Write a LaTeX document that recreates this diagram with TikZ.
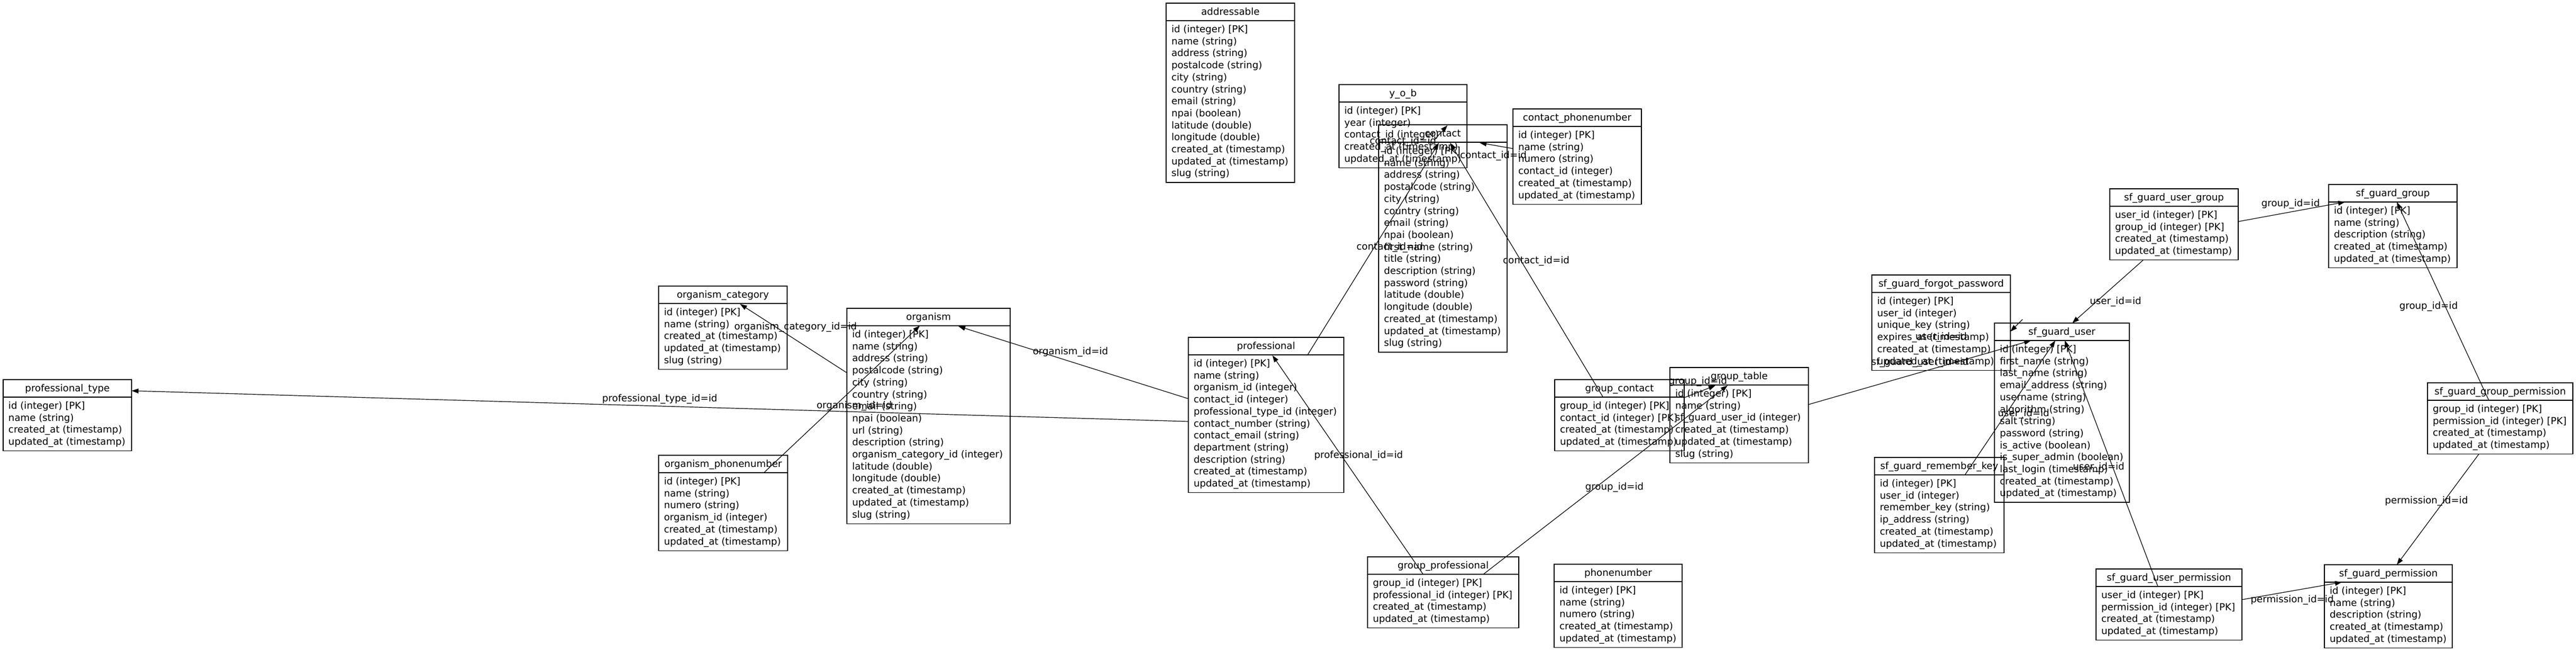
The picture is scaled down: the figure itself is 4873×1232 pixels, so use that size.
\documentclass[tikz,border=0pt]{standalone}
\usepackage{fontspec}
\setmainfont{DejaVu Sans}
\usetikzlibrary{arrows.meta,calc}
\newcounter{fkc}
\tikzset{
  tbl/.style={draw=black, line width=1.3pt, inner sep=0pt, outer sep=0pt, anchor=north west},
  hdiv/.style={draw=black, line width=2.6pt},
  txt/.style={inner sep=0pt, outer sep=0pt, font=\fontsize{18.2}{22.7}\selectfont},
  fkline/.style={draw=black, line width=1.2pt, -{Triangle[length=13pt,width=9pt]}},
}
\newcommand{\erbox}[7]{%
  \pgfmathsetmacro\boxh{33+#5*22.7+11}%
  \node[tbl, minimum width=#4pt, minimum height=\boxh pt] (#1) at (#2,#3) {};
  \draw[hdiv] ([yshift=-33pt]#1.north west) -- ([yshift=-33pt]#1.north east);
  \node[txt, anchor=base] (#1-h) at ([yshift=-22.2pt]#1.north) {#6};
  \foreach \rowtxt [count=\i] in {#7} {
    \pgfmathsetmacro\yy{55.55+(\i-1)*22.7}
    \node[txt, anchor=base west] (#1-r\i) at ([xshift=10pt,yshift=-\yy pt]#1.north west) {\rowtxt};
  }
}
\newcommand{\fk}[9]{%
  \stepcounter{fkc}%
  \draw[fkline] ($(#1.north west)+(#2,#3)$) -- ($(#4.north west)+(#5,#6)$);
  \node[txt, anchor=base] (fk\thefkc) at ($(#7,#8)+(0,5.7)$) {#9};
}
\begin{document}
\begin{tikzpicture}[x=1pt,y=-1pt]
\fill[white] (0,0) rectangle (4873,1232);
\useasboundingbox (0,0) rectangle (4873,1232);

\erbox{PT}{6}{718}{243}{4}{professional\_type}{id (integer) [PK], name (string), created\_at (timestamp), updated\_at (timestamp)}
\erbox{OC}{1246}{541}{243}{5}{organism\_category}{id (integer) [PK], name (string), created\_at (timestamp), updated\_at (timestamp), slug (string)}
\erbox{OR}{1602}{583}{309}{16}{organism}{id (integer) [PK], name (string), address (string), postalcode (string), city (string), country (string), email (string), npai (boolean), url (string), description (string), organism\_category\_id (integer), latitude (double), longitude (double), created\_at (timestamp), updated\_at (timestamp), slug (string)}
\erbox{OP}{1246}{861}{244}{6}{organism\_phonenumber}{id (integer) [PK], name (string), numero (string), organism\_id (integer), created\_at (timestamp), updated\_at (timestamp)}
\erbox{AD}{2206}{6}{243}{13}{addressable}{id (integer) [PK], name (string), address (string), postalcode (string), city (string), country (string), email (string), npai (boolean), latitude (double), longitude (double), created\_at (timestamp), updated\_at (timestamp), slug (string)}
\erbox{YOB}{2533}{160}{242}{5}{y\_o\_b}{id (integer) [PK], year (integer), contact\_id (integer), created\_at (timestamp), updated\_at (timestamp)}
\erbox{CO}{2608}{236}{243}{17}{contact}{id (integer) [PK], name (string), address (string), postalcode (string), city (string), country (string), email (string), npai (boolean), first\_name (string), title (string), description (string), password (string), latitude (double), longitude (double), created\_at (timestamp), updated\_at (timestamp), slug (string)}
\erbox{CP}{2862}{206}{243}{6}{contact\_phonenumber}{id (integer) [PK], name (string), numero (string), contact\_id (integer), created\_at (timestamp), updated\_at (timestamp)}
\erbox{PR}{2248}{638}{294}{11}{professional}{id (integer) [PK], name (string), organism\_id (integer), contact\_id (integer), professional\_type\_id (integer), contact\_number (string), contact\_email (string), department (string), description (string), created\_at (timestamp), updated\_at (timestamp)}
\erbox{GC}{2941}{718}{245}{4}{group\_contact}{group\_id (integer) [PK], contact\_id (integer) [PK], created\_at (timestamp), updated\_at (timestamp)}
\erbox{GT}{3159}{695}{262}{6}{group\_table}{id (integer) [PK], name (string), sf\_guard\_user\_id (integer), created\_at (timestamp), updated\_at (timestamp), slug (string)}
\erbox{GP}{2587}{1053}{286}{4}{group\_professional}{group\_id (integer) [PK], professional\_id (integer) [PK], created\_at (timestamp), updated\_at (timestamp)}
\erbox{PN}{2940}{1067}{242}{5}{phonenumber}{id (integer) [PK], name (string), numero (string), created\_at (timestamp), updated\_at (timestamp)}
\erbox{FP}{3541}{520}{262}{6}{sf\_guard\_forgot\_password}{id (integer) [PK], user\_id (integer), unique\_key (string), expires\_at (timestamp), created\_at (timestamp), updated\_at (timestamp)}
\erbox{SU}{3773}{611}{255}{13}{sf\_guard\_user}{id (integer) [PK], first\_name (string), last\_name (string), email\_address (string), username (string), algorithm (string), salt (string), password (string), is\_active (boolean), is\_super\_admin (boolean), last\_login (timestamp), created\_at (timestamp), updated\_at (timestamp)}
\erbox{RK}{3546}{865}{245}{6}{sf\_guard\_remember\_key}{id (integer) [PK], user\_id (integer), remember\_key (string), ip\_address (string), created\_at (timestamp), updated\_at (timestamp)}
\erbox{UG}{3991}{357}{243}{4}{sf\_guard\_user\_group}{user\_id (integer) [PK], group\_id (integer) [PK], created\_at (timestamp), updated\_at (timestamp)}
\erbox{SG}{4405}{349}{243}{5}{sf\_guard\_group}{id (integer) [PK], name (string), description (string), created\_at (timestamp), updated\_at (timestamp)}
\erbox{GPm}{4592}{724}{275}{4}{sf\_guard\_group\_permission}{group\_id (integer) [PK], permission\_id (integer) [PK], created\_at (timestamp), updated\_at (timestamp)}
\erbox{UP}{3965}{1076}{276}{4}{sf\_guard\_user\_permission}{user\_id (integer) [PK], permission\_id (integer) [PK], created\_at (timestamp), updated\_at (timestamp)}
\erbox{SP}{4397}{1068}{242}{5}{sf\_guard\_permission}{id (integer) [PK], name (string), description (string), created\_at (timestamp), updated\_at (timestamp)}

\fk{PR}{0}{159}{PT}{243}{21}{1248}{754}{professional\_type\_id=id}
\fk{OR}{0}{122}{OC}{154}{34}{1505}{618}{organism\_category\_id=id}
\fk{OP}{200}{32}{OR}{138}{33}{1616}{767}{organism\_id=id}
\fk{PR}{0}{116}{OR}{211}{34}{2025}{665}{organism\_id=id}
\fk{PR}{225}{34}{CO}{114}{34}{2629}{467}{contact\_id=id}
\fk{GC}{92}{34}{CO}{135}{34}{2906}{493}{contact\_id=id}
\fk{CP}{0}{75}{CO}{191}{34}{2825}{294}{contact\_id=id}
\fk{YOB}{180}{105}{CO}{130}{1}{2654}{267}{contact\_id=id}
\fk{GC}{245}{34}{GT}{86}{34}{3212}{721}{group\_id=id}
\fk{GP}{219}{33}{GT}{109}{34}{3054}{921}{group\_id=id}
\fk{GP}{105}{33}{PR}{159}{34}{2570}{861}{professional\_id=id}
\fk{GT}{262}{70}{SU}{69}{33}{3632}{685}{sf\_guard\_user\_id=id}
\fk{FP}{285}{84}{SU}{30}{16}{3672}{637}{user\_id=id}
\fk{RK}{171}{33}{SU}{115}{33}{3828}{782}{user\_id=id}
\fk{UP}{117}{33}{SU}{133}{33}{3970}{883}{user\_id=id}
\fk{UG}{63}{135}{SU}{147}{0}{4002}{570}{user\_id=id}
\fk{UG}{243}{62}{SG}{31}{33}{4333}{385}{group\_id=id}
\fk{GPm}{116}{33}{SG}{129}{33}{4594}{579}{group\_id=id}
\fk{GPm}{97}{135}{SP}{137}{0}{4590}{947}{permission\_id=id}
\fk{UP}{276}{58}{SP}{33}{33}{4336}{1134}{permission\_id=id}
\end{tikzpicture}
\end{document}
